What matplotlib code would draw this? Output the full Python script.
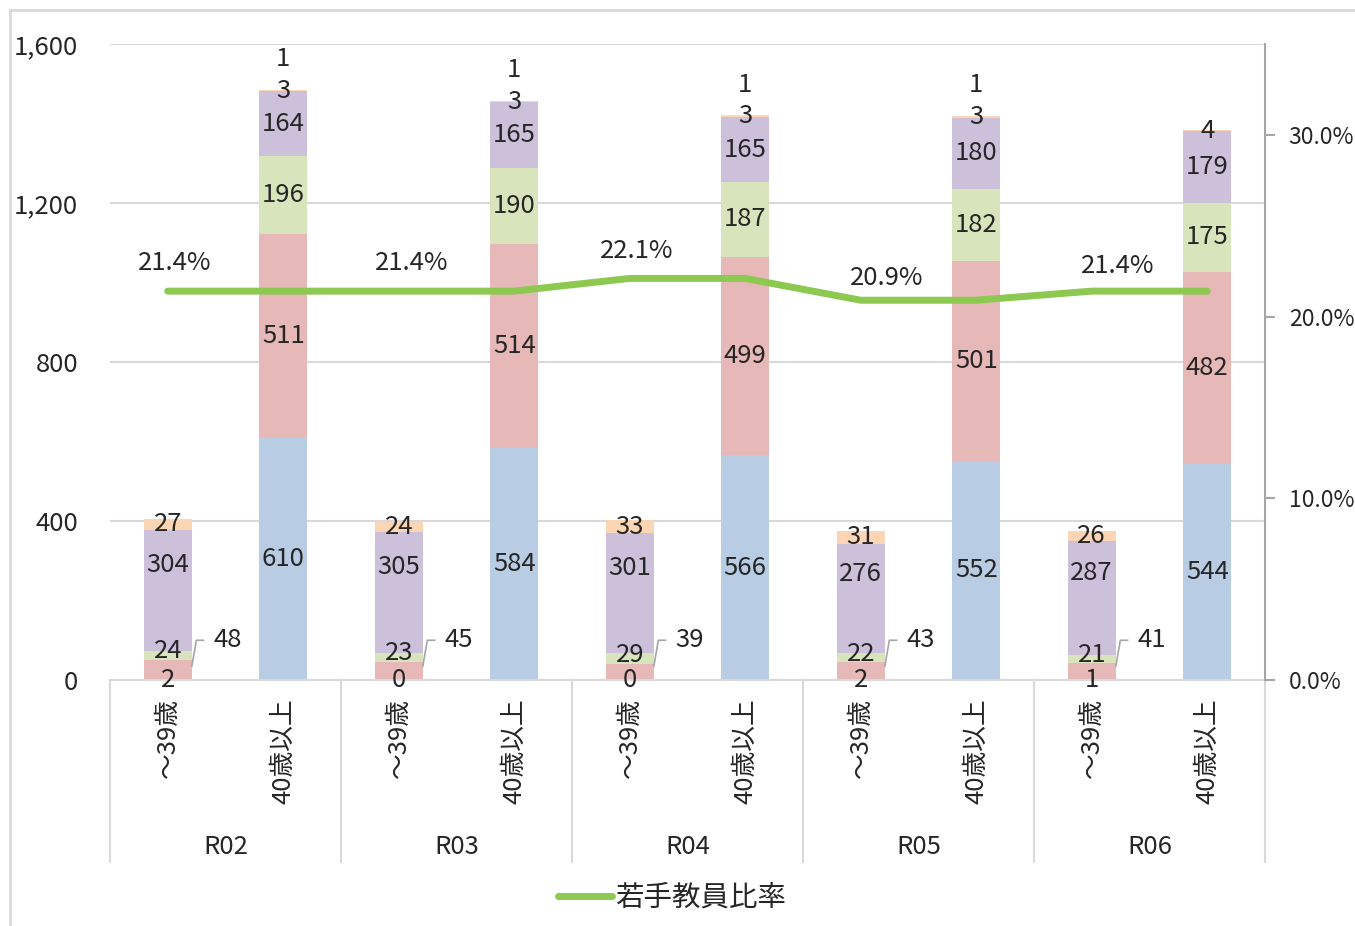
import matplotlib
matplotlib.use("Agg")
import matplotlib.pyplot as plt
from matplotlib.lines import Line2D
from matplotlib.transforms import blended_transform_factory

plt.rcParams['font.family'] = ['Noto Sans CJK JP', 'DejaVu Sans']

# ---- data -------------------------------------------------------------
years = ["R02", "R03", "R04", "R05", "R06"]
age_groups = ["～39歳", "40歳以上"]

# stacked segments, one value per bar (year x age group, in order)
blue_vals   = [2, 610, 0, 584, 0, 566, 2, 552, 1, 544]
pink_vals   = [48, 511, 45, 514, 39, 499, 43, 501, 41, 482]
green_vals  = [24, 196, 23, 190, 29, 187, 22, 182, 21, 175]
purple_vals = [304, 164, 305, 165, 301, 165, 276, 180, 287, 179]
orange_vals = [27, 3, 24, 3, 33, 3, 31, 3, 26, 4]
extra_vals  = [0, 1, 0, 1, 0, 1, 0, 1, 0, 0]

# share of young teachers per year (%)
young_ratio = [21.4, 21.4, 22.1, 20.9, 21.4]
line_label = "若手教員比率"

# ---- styling ----------------------------------------------------------
seg_colors = ['#b8cce4', '#e6b8b7', '#d8e4bc', '#ccc0da', '#fcd5b4', '#f2dcdb']
line_color = '#8dc850'
grid_color = '#d9d9d9'
txt_color = '#262626'
FS = 18.5

W, H = 1355, 926
fig = plt.figure(figsize=(W / 100, H / 100), dpi=100)
ax = fig.add_axes([110 / W, 1 - 680 / H, 1155 / W, 636 / H])

n = len(blue_vals)
xs = list(range(n))
bar_w = 0.415

series = [blue_vals, pink_vals, green_vals, purple_vals, orange_vals, extra_vals]
bottoms = [0] * n
seg_bottoms = []
for vals, col in zip(series, seg_colors):
    ax.bar(xs, vals, width=bar_w, bottom=bottoms, color=col, zorder=2)
    seg_bottoms.append(list(bottoms))
    bottoms = [b + v for b, v in zip(bottoms, vals)]

ax.set_xlim(-0.5, n - 0.5)
ax.set_ylim(0, 1600)
ax.set_yticks([0, 400, 800, 1200, 1600])
ax.set_yticklabels([f"{v:,}" for v in [0, 400, 800, 1200, 1600]],
                   fontsize=FS, color=txt_color)
ax.tick_params(axis='y', length=0, pad=23)
ax.yaxis.grid(True, color=grid_color, linewidth=1.5, zorder=0)
ax.set_axisbelow(True)
for s in ['top', 'right', 'left']:
    ax.spines[s].set_visible(False)
ax.spines['bottom'].set_color(grid_color)
ax.spines['bottom'].set_linewidth(1.5)

# category labels (rotated)
ax.set_xticks(xs)
ax.set_xticklabels([age_groups[i % 2] for i in xs], rotation=90,
                   fontsize=FS, color=txt_color, va='top')
ax.tick_params(axis='x', length=0, pad=13)

# year group labels and separators
trans = blended_transform_factory(ax.transData, ax.transAxes)
for k in range(len(years) + 1):
    xsep = 2 * k - 0.5
    ax.add_line(Line2D([xsep, xsep], [0, -0.286], transform=trans,
                       color=grid_color, linewidth=1.5, clip_on=False))
for k, yr in enumerate(years):
    ax.text(2 * k + 0.5, -0.2626, yr, transform=trans, ha='center',
            va='center', fontsize=FS, color=txt_color)

# segment labels
def seg_label(i, s, txt, dy_pts=0):
    mid = seg_bottoms[s][i] + series[s][i] / 2
    ax.annotate(txt, (i, mid), xytext=(0, dy_pts), textcoords='offset points',
                ha='center', va='center', fontsize=FS, color=txt_color, zorder=5)

for i in xs:
    young = (i % 2 == 0)
    for s in range(len(series)):
        v = series[s][i]
        if s == 5:
            if v > 0:
                top = bottoms[i]
                ax.annotate(str(v), (i, top), xytext=(0, 22),
                            textcoords='offset points', ha='center',
                            va='center', fontsize=FS, color=txt_color, zorder=5)
            continue
        if young and s == 1:
            # label outside the bar with a leader line
            x0 = i + bar_w / 2
            ax.plot([x0, x0 + 0.04, x0 + 0.11], [33, 100, 100],
                    color='#a6a6a6', linewidth=1.2, zorder=4,
                    solid_capstyle='butt')
            ax.text(x0 + 0.31, 100, str(v), ha='center', va='center',
                    fontsize=FS, color=txt_color, zorder=5)
            continue
        if young and s == 3:
            seg_label(i, s, str(v), dy_pts=18)
        elif young and s == 2:
            seg_label(i, s, str(v), dy_pts=3)
        else:
            seg_label(i, s, str(v))

# ratio line on secondary axis
ax2 = ax.twinx()
ax2.set_ylim(0, 35)
ax2.set_yticks([0, 10, 20, 30])
ax2.set_yticklabels([f"{v:.1f}%" for v in [0, 10, 20, 30]],
                    fontsize=16.5, color=txt_color)
ax2.tick_params(axis='y', length=7, width=1.5, color='#a6a6a6',
                direction='out', pad=10)
for s in ['top', 'left', 'bottom']:
    ax2.spines[s].set_visible(False)
ax2.spines['right'].set_color('#a6a6a6')
ax2.spines['right'].set_linewidth(1.5)

line_y = [r for r in young_ratio for _ in range(2)]
ax2.plot(xs, line_y, color=line_color, linewidth=5, solid_capstyle='round',
         solid_joinstyle='round', zorder=3)

label_dx = [5, 9, 5, 19, 19]
label_dy = [20, 20, 20, 16, 18]
for k, r in enumerate(young_ratio):
    ax2.annotate(f"{r:.1f}%", (2 * k, r), xytext=(label_dx[k], label_dy[k]),
                 textcoords='offset points', ha='center', va='center',
                 fontsize=FS, color=txt_color)

# legend
handle = Line2D([0], [0], color=line_color, linewidth=5, solid_capstyle='round')
fig.legend([handle], [line_label], loc='center', bbox_to_anchor=(672 / W, 1 - 898 / H),
           frameon=False, fontsize=20.5, handlelength=1.9, handletextpad=0.1,
           labelcolor=txt_color)

# outer chart frame
fig.add_artist(Line2D([10 / W, 10 / W], [0, 1 - 10 / H], color='#d9d9d9', linewidth=2))
fig.add_artist(Line2D([10 / W, 1], [1 - 10 / H, 1 - 10 / H], color='#d9d9d9', linewidth=2))

fig.savefig("out.png", dpi=100)
